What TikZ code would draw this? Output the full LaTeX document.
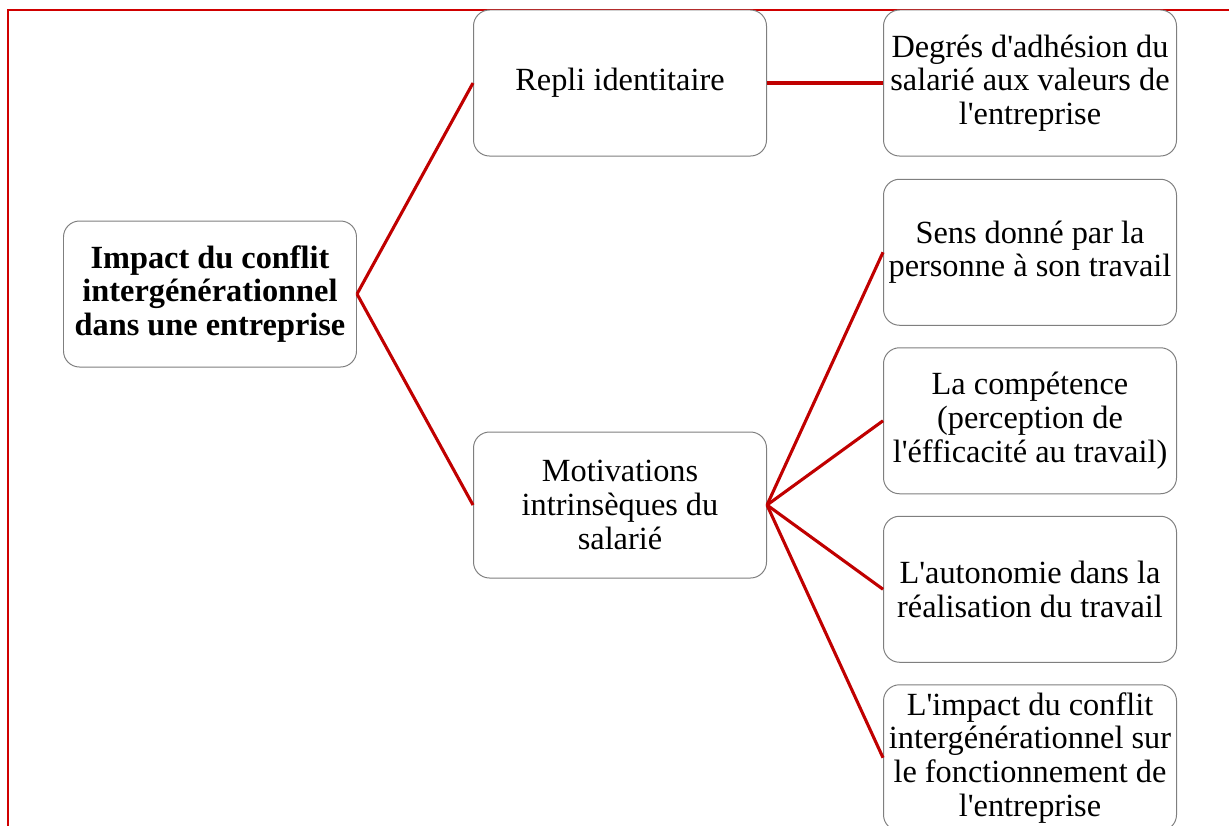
\documentclass[tikz,border=0pt]{standalone}
\usepackage{fontspec}
\setmainfont{Liberation Serif}
\definecolor{linkred}{HTML}{C00000}
\definecolor{framered}{HTML}{D00000}
\definecolor{boxgray}{HTML}{7F7F7F}
\newcommand{\ap}{\textquotesingle}
\begin{document}
\begin{tikzpicture}[
    box/.style={rectangle, draw=boxgray, line width=0.7pt, rounded corners=0.4cm,
        fill=white, minimum width=7.325cm, minimum height=3.65cm, text width=7.2cm,
        inner sep=0.06cm, align=flush center, font=\fontsize{23}{24}\selectfont},
    rootbox/.style={box, font=\fontsize{23}{24}\selectfont\bfseries},
    level 1/.style={sibling distance=10.55cm},
    level 2/.style={sibling distance=4.2125cm},
    grow'=right, level distance=10.25cm,
    parent anchor=east, child anchor=west,
    edge from parent/.style={draw=linkred, line width=2.2pt}
]
\useasboundingbox (0,0) rectangle (30.725,-20.625);
\clip (0,0) rectangle (30.725,-20.625);
\draw [framered, line width=1.3pt] (0.2,-0.25) rectangle (32,-22);

\node (Impact) [rootbox] at (5.25,-7.35) {Impact du conflit\\intergénérationnel\\dans une entreprise}
  child {
    node (Repli) [box] {Repli identitaire}
    child {
      node (Adhesion) [box] {Degrés d\ap adhésion du\\salarié aux valeurs de\\l\ap entreprise}
    }
  }
  child {
    node (Motivations) [box] {Motivations\\intrinsèques du\\salarié}
    child {
      node (Sens) [box] {Sens donné par la\\personne à son travail}
    }
    child {
      node (Competence) [box] {La compétence\\(perception de\\l\ap éfficacité au travail)}
    }
    child {
      node (Autonomie) [box] {L\ap autonomie dans la\\réalisation du travail}
    }
    child {
      node (Fonctionnement) [box] {L\ap impact du conflit\\intergénérationnel sur\\le fonctionnement de\\l\ap entreprise}
    }
  }
;

\end{tikzpicture}
\end{document}
